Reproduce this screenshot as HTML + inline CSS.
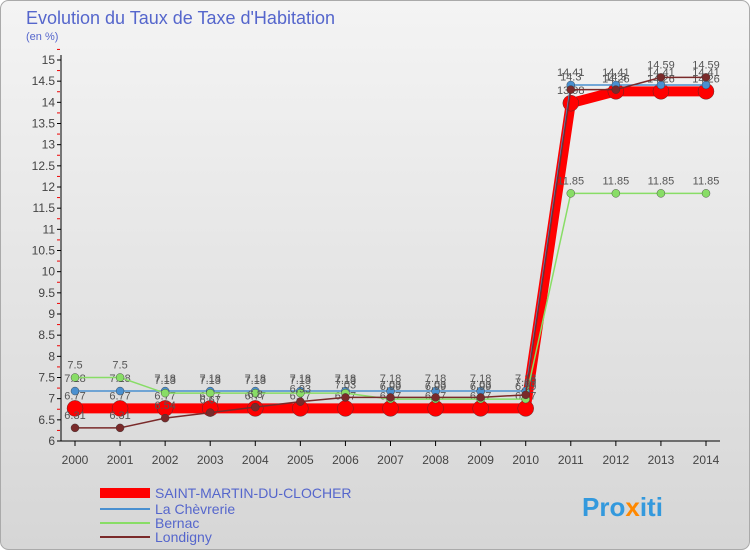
<!DOCTYPE html>
<html><head><meta charset="utf-8"><style>
body{margin:0;width:750px;height:550px;overflow:hidden;font-family:"Liberation Sans",sans-serif}
svg text{font-family:"Liberation Sans",sans-serif}
</style></head><body>
<svg id="c" width="750" height="550" xmlns="http://www.w3.org/2000/svg">
<defs><linearGradient id="bg" x1="0" y1="0" x2="0" y2="1"><stop offset="0" stop-color="#f4f4f4"/><stop offset="1" stop-color="#d6d6d6"/></linearGradient></defs>
<rect x="0.5" y="0.5" width="749" height="549" rx="8" fill="url(#bg)" stroke="#aaa"/>
<text x="26" y="24" font-size="18" fill="#5566cc">Evolution du Taux de Taxe d'Habitation</text>
<text x="26" y="40" font-size="11" fill="#5566cc">(en %)</text>
<g id="axes"></g><g id="series"></g>
<g>
<line x1="100" y1="493" x2="150" y2="493" stroke="#ff0000" stroke-width="10"/>
<text x="155" y="498" font-size="14" fill="#5566cc">SAINT-MARTIN-DU-CLOCHER</text>
<line x1="100" y1="509" x2="150" y2="509" stroke="#4a90d0" stroke-width="2"/>
<text x="155" y="514" font-size="14" fill="#5566cc">La Chèvrerie</text>
<line x1="100" y1="523" x2="150" y2="523" stroke="#88dd66" stroke-width="2"/>
<text x="155" y="528" font-size="14" fill="#5566cc">Bernac</text>
<line x1="100" y1="537" x2="150" y2="537" stroke="#7a2a2a" stroke-width="2"/>
<text x="155" y="542" font-size="14" fill="#5566cc">Londigny</text>
</g>
<text x="582" y="516" font-size="26" font-weight="bold" fill="#3399dd">Pro<tspan fill="#ff8800">x</tspan>iti</text>
</svg>
<script>
const years=[2000,2001,2002,2003,2004,2005,2006,2007,2008,2009,2010,2011,2012,2013,2014];
const saintMartin=[6.77,6.77,6.77,6.77,6.77,6.77,6.77,6.77,6.77,6.77,6.77,13.98,14.26,14.26,14.26];
const chevrerie=[7.18,7.18,7.18,7.18,7.18,7.18,7.18,7.18,7.18,7.18,7.18,14.41,14.41,14.41,14.41];
const bernac=[7.5,7.5,7.13,7.13,7.13,7.13,7.13,6.99,6.99,6.99,6.99,11.85,11.85,11.85,11.85];
const londigny=[6.31,6.31,6.54,6.67,6.8,6.93,7.03,7.03,7.03,7.03,7.09,14.3,14.3,14.59,14.59];
const yTicks=[6,6.5,7,7.5,8,8.5,9,9.5,10,10.5,11,11.5,12,12.5,13,13.5,14,14.5,15];
const NS="http://www.w3.org/2000/svg";
const X=i=>75+i*(706-75)/14, Y=v=>441-(v-6)*(441-60)/9;
function mk(p,t,a){const e=document.createElementNS(NS,t);for(const k in a)e.setAttribute(k,a[k]);p.appendChild(e);return e;}
const ax=document.getElementById('axes');
let l=mk(ax,'line',{x1:61,y1:55,x2:61,y2:441,stroke:'#000'});


l=mk(ax,'line',{x1:61,y1:441,x2:720,y2:441,stroke:'#000'});


yTicks.forEach(v=>{
 mk(ax,'line',{x1:57,y1:Y(v),x2:61,y2:Y(v),stroke:'#000'});
 mk(ax,'line',{x1:57,y1:Y(v+0.25),x2:60,y2:Y(v+0.25),stroke:'#e00'});
 const t=mk(ax,'text',{x:55,y:Y(v)+4,'font-size':12,'text-anchor':'end',fill:'#444'});t.textContent=String(v);
 
 
});
years.forEach((y,i)=>{
 mk(ax,'line',{x1:X(i),y1:441,x2:X(i),y2:446,stroke:'#000'});
 const t=mk(ax,'text',{x:X(i),y:464,'font-size':12,'text-anchor':'middle',fill:'#444'});t.textContent=y;
 
 
});
const sg=document.getElementById('series');
function draw(name,vals,col,w,r){
 const g=mk(sg,'g',{});
 
 
 mk(g,'polyline',{points:vals.map((v,i)=>X(i)+','+Y(v)).join(' '),fill:'none',stroke:col,'stroke-width':w});
 vals.forEach((v,i)=>{
  const c=mk(g,'circle',{cx:X(i),cy:Y(v),r:r,fill:col,stroke:'#333','stroke-width':0.4});
  
  
  const t=mk(g,'text',{x:X(i),y:Y(v)-9,'font-size':11,'text-anchor':'middle',fill:'#555'});t.textContent=String(v);
 });
}
draw('series-saint-martin',saintMartin,'#ff0000',10,8);
draw('series-chevrerie',chevrerie,'#4a90d0',1.5,4);
draw('series-bernac',bernac,'#88dd66',1.5,4);
draw('series-londigny',londigny,'#7a2a2a',1.5,4);
</script>
</body></html>
